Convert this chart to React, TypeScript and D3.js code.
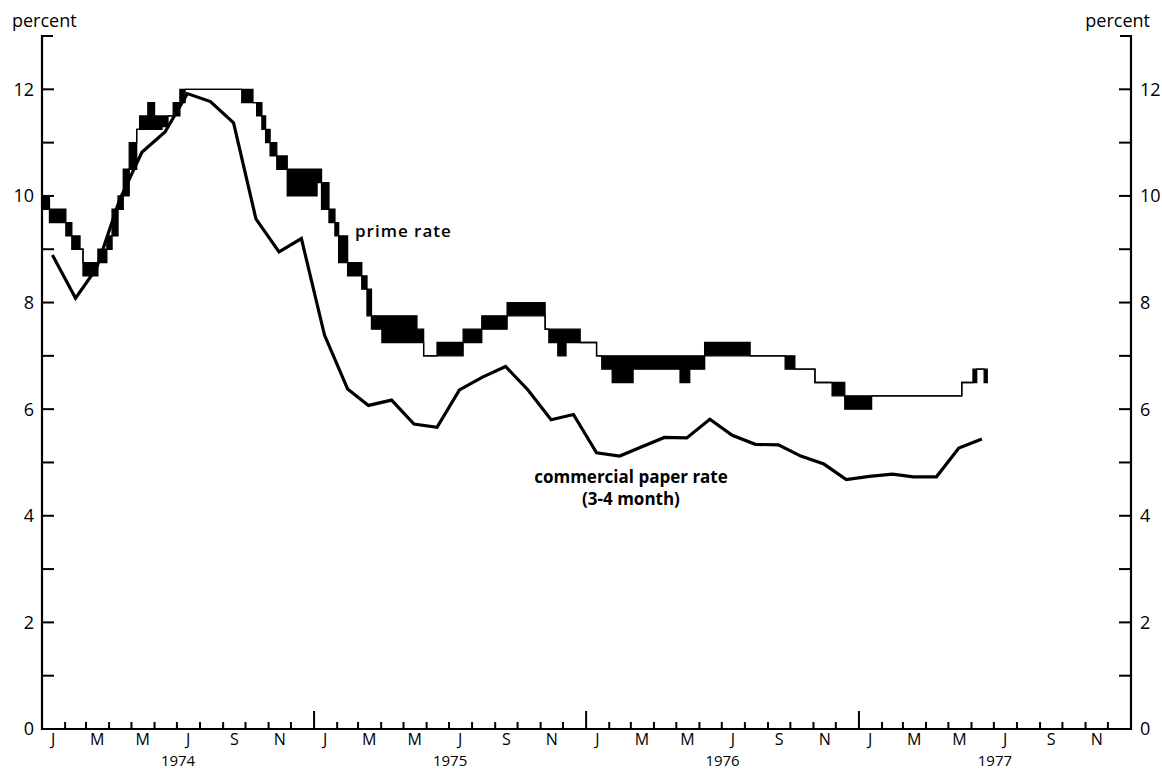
import React from "react";
import * as d3 from "d3";

// Commercial paper rate (3-4 month), monthly averages, Jan 1974 – Jun 1977
const cpMonths = [
  "1974-01", "1974-02", "1974-03", "1974-04", "1974-05", "1974-06",
  "1974-07", "1974-08", "1974-09", "1974-10", "1974-11", "1974-12",
  "1975-01", "1975-02", "1975-03", "1975-04", "1975-05", "1975-06",
  "1975-07", "1975-08", "1975-09", "1975-10", "1975-11", "1975-12",
  "1976-01", "1976-02", "1976-03", "1976-04", "1976-05", "1976-06",
  "1976-07", "1976-08", "1976-09", "1976-10", "1976-11", "1976-12",
  "1977-01", "1977-02", "1977-03", "1977-04", "1977-05", "1977-06",
];
const cpRate = [
  8.89, 8.08, 8.64, 9.92, 10.82, 11.2,
  11.92, 11.77, 11.37, 9.57, 8.95, 9.2,
  7.39, 6.38, 6.07, 6.17, 5.72, 5.66,
  6.36, 6.6, 6.8, 6.36, 5.8, 5.9,
  5.18, 5.12, 5.29, 5.47, 5.46, 5.81,
  5.51, 5.34, 5.33, 5.12, 4.97, 4.68,
  4.74, 4.78, 4.73, 4.73, 5.27, 5.44,
];

// Prime rate: range among banks (high / low), each holding from its date until the next
const primeDates = [
  "1974-01-01", "1974-01-11", "1974-02-02", "1974-02-10", "1974-02-21", "1974-02-25",
  "1974-03-17", "1974-03-29", "1974-04-05", "1974-04-13", "1974-04-20", "1974-04-28",
  "1974-05-08", "1974-05-12", "1974-05-23", "1974-06-01", "1974-06-11", "1974-06-19",
  "1974-06-26", "1974-07-05", "1974-07-12", "1974-09-26", "1974-10-11", "1974-10-16",
  "1974-10-23", "1974-10-28", "1974-11-03", "1974-11-12", "1974-11-26",
  "1975-01-05", "1975-01-11", "1975-01-21", "1975-01-29", "1975-02-03", "1975-02-15",
  "1975-03-06", "1975-03-13", "1975-03-19", "1975-04-02", "1975-05-19", "1975-05-28",
  "1975-06-15", "1975-07-20", "1975-08-14", "1975-09-17", "1975-11-07", "1975-11-12",
  "1975-11-24", "1975-12-05", "1975-12-24",
  "1976-01-15", "1976-01-22", "1976-02-05", "1976-03-04", "1976-05-06", "1976-05-19",
  "1976-06-08", "1976-08-08", "1976-09-24", "1976-10-07", "1976-11-03", "1976-11-26",
  "1976-12-13",
  "1977-01-18", "1977-05-19", "1977-06-03", "1977-06-08", "1977-06-18", "1977-06-23",
];
const primeHigh = [
  10.0, 9.75, 9.5, 9.25, 9.0, 8.75,
  9.0, 9.25, 9.75, 10.0, 10.5, 11.0,
  11.25, 11.5, 11.75, 11.5, 11.5, 11.5,
  11.75, 12.0, 12.0, 12.0, 11.75, 11.75,
  11.5, 11.25, 11.0, 10.75, 10.5,
  10.5, 10.25, 9.75, 9.5, 9.25, 8.75,
  8.5, 8.25, 7.75, 7.75, 7.5, 7.0,
  7.25, 7.5, 7.75, 8.0, 7.5, 7.5,
  7.5, 7.5, 7.25,
  7.0, 7.0, 7.0, 7.0, 7.0, 7.0,
  7.25, 7.0, 7.0, 6.75, 6.5, 6.5,
  6.25,
  6.25, 6.5, 6.75, 6.75, 6.75, 6.75,
];
const primeLow = [
  9.75, 9.5, 9.25, 9.0, 9.0, 8.5,
  8.75, 9.0, 9.25, 9.75, 10.0, 10.5,
  11.25, 11.25, 11.25, 11.25, 11.3, 11.5,
  11.5, 11.75, 12.0, 11.75, 11.75, 11.5,
  11.25, 11.0, 10.75, 10.5, 10.0,
  10.25, 9.75, 9.5, 9.25, 8.75, 8.5,
  8.25, 7.75, 7.5, 7.25, 7.25, 7.0,
  7.0, 7.25, 7.5, 7.75, 7.5, 7.25,
  7.0, 7.25, 7.25,
  7.0, 6.75, 6.5, 6.75, 6.5, 6.75,
  7.0, 7.0, 6.75, 6.75, 6.5, 6.25,
  6.0,
  6.25, 6.5, 6.5, 6.75, 6.5, 6.5,
];

const yTicks = [1, 2, 3, 4, 5, 6, 7, 8, 9, 10, 11, 12];
const yLabels = [0, 2, 4, 6, 8, 10, 12];
const monthLabels = ["J", "M", "M", "J", "S", "N"];
const years = [1974, 1975, 1976, 1977];

const W = 1162;
const H = 769;
const M = { left: 42, right: 1131, top: 36, bottom: 729 };
const FONT = "'Open Sans', 'DejaVu Sans', sans-serif";

export default function App() {
  const parseDay = d3.timeParse("%Y-%m-%d");
  const parseMonth = d3.timeParse("%Y-%m");
  const x = d3
    .scaleTime()
    .domain([new Date(1974, 0, 1), new Date(1978, 0, 1)])
    .range([M.left, M.right]);
  const y = d3.scaleLinear().domain([0, 13]).range([M.bottom, M.top]);

  const cpData = cpMonths.map((m, i) => ({
    date: d3.timeDay.offset(parseMonth(m) as Date, 14),
    v: cpRate[i],
  }));
  const cpLine = d3
    .line<{ date: Date; v: number }>()
    .x((d) => x(d.date))
    .y((d) => y(d.v));

  const prime = primeDates.map((d, i) => ({
    date: parseDay(d) as Date,
    hi: primeHigh[i],
    lo: primeLow[i],
  }));
  const primeArea = d3
    .area<{ date: Date; hi: number; lo: number }>()
    .x((d) => x(d.date))
    .y0((d) => y(d.lo))
    .y1((d) => y(d.hi))
    .curve(d3.curveStepAfter);
  const primeHi = d3
    .line<{ date: Date; hi: number; lo: number }>()
    .x((d) => x(d.date))
    .y((d) => y(d.hi))
    .curve(d3.curveStepAfter);
  const primeLo = d3
    .line<{ date: Date; hi: number; lo: number }>()
    .x((d) => x(d.date))
    .y((d) => y(d.lo))
    .curve(d3.curveStepAfter);

  const allMonths = d3.timeMonth.range(new Date(1974, 0, 1), new Date(1978, 0, 1));
  const monthTicks = allMonths.slice(1);
  const labelMonths = allMonths.filter((d) => d.getMonth() % 2 === 0);

  const tickLen = 12;

  return (
    <svg
      width={W}
      height={H}
      style={{ position: "absolute", left: 0, top: 0, background: "#fff" }}
      fontFamily={FONT}
    >
      <rect x={0} y={0} width={W} height={H} fill="#fff" />

      {/* axes */}
      <g stroke="#000" strokeWidth={2.2} fill="none">
        <path d={`M${M.left + 11},${M.top} H${M.left} V${M.bottom} H${M.right} V${M.top} H${M.right - 11}`} />
      </g>
      <g stroke="#000" strokeWidth={2}>
        {yTicks.map((t) => (
          <g key={t}>
            <line x1={M.left} x2={M.left + tickLen} y1={y(t)} y2={y(t)} />
            <line x1={M.right} x2={M.right - tickLen} y1={y(t)} y2={y(t)} />
          </g>
        ))}
        {monthTicks.map((d, i) => (
          <line
            key={i}
            x1={x(d)}
            x2={x(d)}
            y1={M.bottom}
            y2={M.bottom - (d.getMonth() === 0 ? 18 : 7)}
          />
        ))}
      </g>

      {/* y labels */}
      <g fontSize={18} fill="#000">
        {yLabels.map((t) => (
          <g key={t}>
            <text x={M.left - 8} y={y(t)} dy="0.36em" textAnchor="end">
              {t}
            </text>
            <text x={M.right + 9} y={y(t)} dy="0.36em" textAnchor="start">
              {t}
            </text>
          </g>
        ))}
        <text x={12} y={27}>percent</text>
        <text x={1150} y={27} textAnchor="end">percent</text>
      </g>

      {/* x labels */}
      <g fill="#000" textAnchor="middle">
        {labelMonths.map((d, i) => (
          <text key={i} x={x(d3.timeDay.offset(d, 15))} y={745} fontSize={16}>
            {monthLabels[d.getMonth() / 2]}
          </text>
        ))}
        {years.map((yr) => (
          <text
            key={yr}
            x={(x(new Date(yr, 0, 1)) + x(new Date(yr + 1, 0, 1))) / 2}
            y={766}
            fontSize={15}
          >
            {yr}
          </text>
        ))}
      </g>

      {/* prime rate band */}
      <path d={primeArea(prime) || ""} fill="#000" stroke="none" />
      <path d={primeHi(prime) || ""} fill="none" stroke="#000" strokeWidth={1.3} />
      <path d={primeLo(prime) || ""} fill="none" stroke="#000" strokeWidth={1.3} />

      {/* commercial paper rate */}
      <path
        d={cpLine(cpData) || ""}
        fill="none"
        stroke="#000"
        strokeWidth={3.2}
        strokeLinejoin="miter"
      />

      {/* annotations */}
      <text x={355} y={237} fontSize={17} fontWeight={600} letterSpacing={1}>
        prime rate
      </text>
      <text x={631} y={483} fontSize={17} fontWeight={700} textAnchor="middle">
        commercial paper rate
      </text>
      <text x={631} y={505} fontSize={17} fontWeight={700} textAnchor="middle">
        (3-4 month)
      </text>
    </svg>
  );
}
